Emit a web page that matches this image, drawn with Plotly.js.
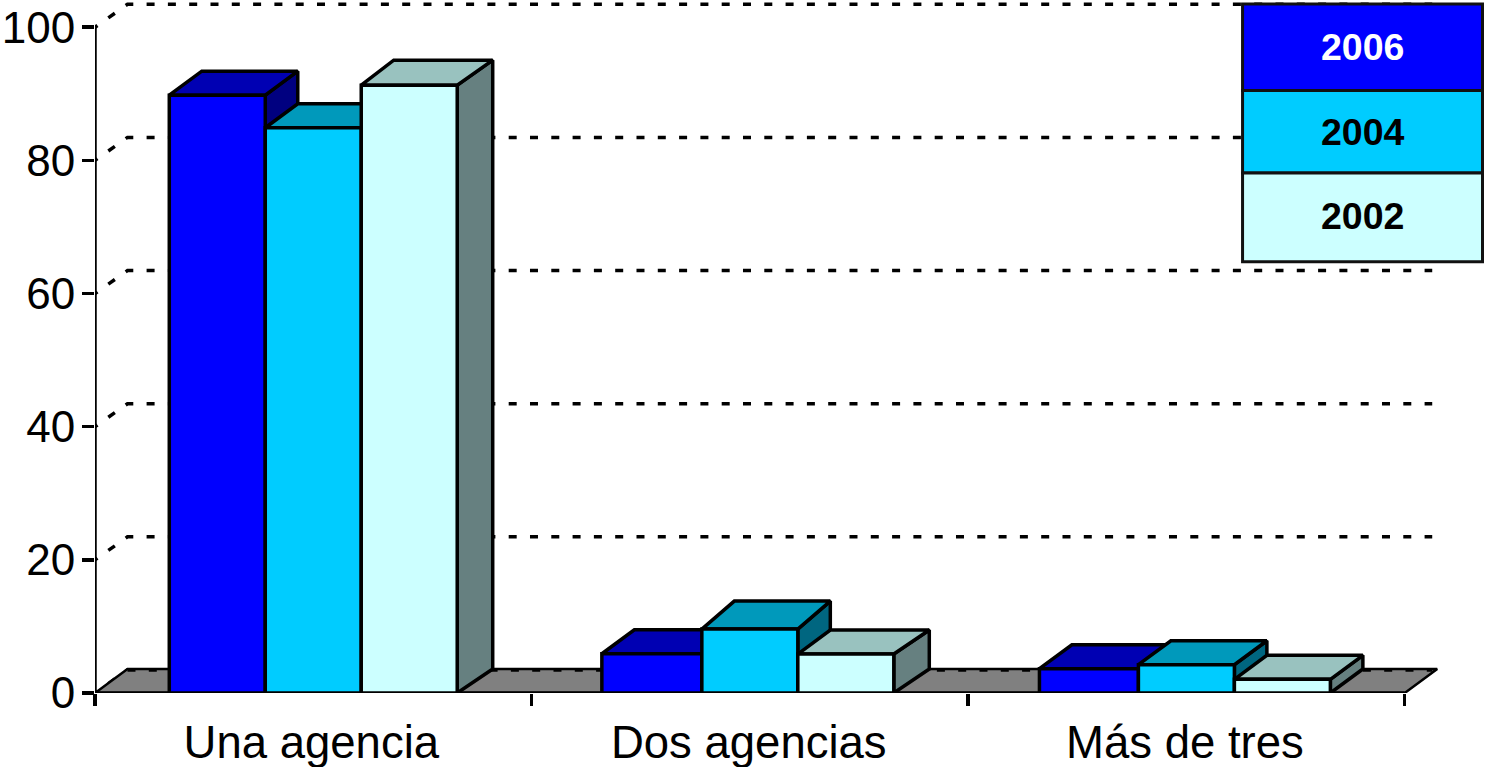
<!DOCTYPE html>
<html>
<head>
<meta charset="utf-8">
<script src="https://cdn.plot.ly/plotly-3.0.1.min.js"></script>
<style>html,body{margin:0;padding:0;background:#fff;overflow:hidden}#chart{width:1485px;height:767px}</style>
</head>
<body>
<div id="chart"></div>
<script>
// ---- data ----
var categories = ['Una agencia', 'Dos agencias', 'Más de tres'];
var seriesNames = ['2006', '2004', '2002'];
var values2006 = [89.8, 5.9, 3.65];
var values2004 = [84.9, 9.6, 4.25];
var values2002 = [91.3, 5.85, 2.05];
var yTicks = [0, 20, 40, 60, 80, 100];

// ---- styles ----
var frontColors = ['#0000FF', '#00CCFF', '#CCFFFF'];
var topColors   = ['#0000B3', '#0099BB', '#99C2BF'];
var sideColors  = ['#000080', '#006680', '#668080'];
var legendText  = ['#FFFFFF', '#000000', '#000000'];
var LW = 3.5;

// ---- geometry: pixels to axis units ----
var W = 1485, H = 767, L = 94.7, Y0 = 693.5;
var pxX = 436.67, pxY = 6.6625;
var depthX = 32.5 / pxX, depthY = 24 / pxY, gridDepthY = 23 / pxY;
var barW = 96 / pxX, groupStart = 74.3 / pxX;
var firstBarExtra = [0, 4 / pxX, 3 / pxX];
var backExtraX = [[0, 0, 0], [0, 0, 0], [3 / pxX, 3 / pxX, 0]];
var backExtraY = [[0, 0, 0], [0, 4 / pxY, 0], [1 / pxY, 0, 0]];
var seriesValues = [values2006, values2004, values2002];

function poly(xs, ys, fill) {
  return {x: xs.concat([xs[0]]), y: ys.concat([ys[0]]), type: 'scatter', mode: 'lines',
    fill: 'toself', fillcolor: fill, line: {color: '#000', width: LW, shape: 'linear'},
    hoverinfo: 'skip', showlegend: false, cliponaxis: false};
}
var traces = [];
var lead = '3px,13.3px' + ',8px,13.3px'.repeat(90);

// dashed wall gridlines
yTicks.forEach(function (v) {
  traces.push({x: [0, depthX, 3 + depthX - 5 / pxX], y: [v, v + gridDepthY, v + gridDepthY],
    type: 'scatter', mode: 'lines', line: {color: '#000', width: LW, dash: lead},
    hoverinfo: 'skip', showlegend: false, cliponaxis: false});
});
// floor
var floor = poly([0, depthX, 3 + depthX, 3], [0, depthY, depthY, 0], '#808080');
floor.line.width = 2.5;
traces.push(floor);
traces.push({x: [0, 3], y: [0, 0], type: 'scatter', mode: 'lines', line: {color: '#000', width: LW},
  hoverinfo: 'skip', showlegend: false, cliponaxis: false});
// floor back-edge dashes
traces.push({x: [depthX, 3 + depthX - 5 / pxX], y: [gridDepthY, gridDepthY], type: 'scatter', mode: 'lines',
  line: {color: '#000', width: LW, dash: '8px,13.3px'}, hoverinfo: 'skip', showlegend: false, cliponaxis: false});
// vertical value axis line
traces.push({x: [0, 0], y: [0, 100], type: 'scatter', mode: 'lines', line: {color: '#000', width: LW},
  hoverinfo: 'skip', showlegend: false, cliponaxis: false});

// 3-D bars, painted from the left
categories.forEach(function (c, g) {
  seriesNames.forEach(function (name, s) {
    var v = seriesValues[s][g];
    var x0 = g + groupStart + s * barW - (s === 0 ? firstBarExtra[g] : 0);
    var x1 = g + groupStart + (s + 1) * barW;
    var bx = x1 + depthX + backExtraX[s][g];
    var by = v + depthY + backExtraY[s][g];
    traces.push(poly([x1, bx, bx, x1], [0, depthY, by, v], sideColors[s]));
    traces.push(poly([x0, x0 + depthX, bx, x1], [v, by, by, v], topColors[s]));
    traces.push(poly([x0, x1, x1, x0], [0, 0, v, v], frontColors[s]));
  });
});

// legend block, in page pixels converted to paper fractions
var plotW = W - L;
function px(p) { return (p - L) / plotW; }
function py(p) { return 1 - p / Y0; }
var legendEdges = [4, 90.5, 173, 262];
var legendCenters = [47, 132, 216];
var shapes = [], annotations = [];
seriesNames.forEach(function (name, s) {
  shapes.push({type: 'rect', xref: 'paper', yref: 'paper', x0: px(1242.5), x1: px(1482.5),
    y0: py(legendEdges[s + 1]), y1: py(legendEdges[s]), fillcolor: frontColors[s],
    line: {color: '#111', width: 3}, layer: 'above'});
  annotations.push({xref: 'paper', yref: 'paper', x: px(1362.5), y: py(legendCenters[s]),
    text: '<b>' + name + '</b>', showarrow: false, xanchor: 'center', yanchor: 'middle',
    font: {family: 'Liberation Sans, Arial, sans-serif', size: 37.5, color: legendText[s]}});
});

var layout = {
  width: W, height: H, paper_bgcolor: '#fff', plot_bgcolor: '#fff',
  margin: {l: L, r: 0, t: 0, b: H - Y0, pad: 0},
  showlegend: false, shapes: shapes, annotations: annotations,
  font: {family: 'Liberation Sans, Arial, sans-serif', color: '#000', size: 45},
  xaxis: {type: 'linear', range: [0, plotW / pxX], showgrid: false, zeroline: false, showline: false,
    tickmode: 'array', tickvals: [0.4955, 1.4975, 2.4965], ticktext: categories, ticks: '', ticklen: 0,
    tickangle: 0, tickfont: {size: 45.5}, ticklabelstandoff: 18,
    minor: {tickmode: 'array', tickvals: [0, 1, 2, 3], ticks: 'outside', ticklen: 12, tickwidth: LW, tickcolor: '#000', showgrid: false}},
  yaxis: {type: 'linear', range: [0, Y0 / pxY], showgrid: false, zeroline: false, showline: false,
    tickmode: 'array', tickvals: yTicks, ticks: 'outside', ticklen: 12, tickwidth: LW, tickcolor: '#000',
    tickfont: {size: 44}, ticklabelstandoff: -2}
};
Plotly.newPlot('chart', traces, layout, {displayModeBar: false, staticPlot: true});
</script>
</body>
</html>
